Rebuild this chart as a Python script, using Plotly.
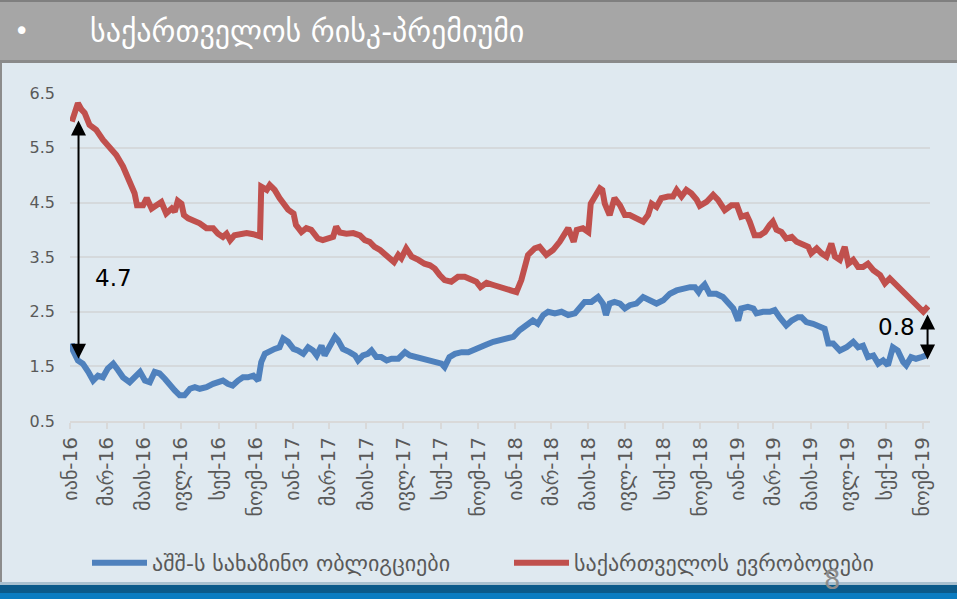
import plotly.graph_objects as go

# ---------------- data ----------------
title_text = "საქართველოს რისკ-პრემიუმი"
us_name = "აშშ-ს სახაზინო ობლიგციები"
geo_name = "საქართველოს ევრობოდები"

tick_dates = ["2016-01-01", "2016-03-01", "2016-05-01", "2016-07-01", "2016-09-01", "2016-11-01",
              "2017-01-01", "2017-03-01", "2017-05-01", "2017-07-01", "2017-09-01", "2017-11-01",
              "2018-01-01", "2018-03-01", "2018-05-01", "2018-07-01", "2018-09-01", "2018-11-01",
              "2019-01-01", "2019-03-01", "2019-05-01", "2019-07-01", "2019-09-01", "2019-11-01"]
tick_labels = ["იან-16", "მარ-16", "მაის-16", "ივლ-16", "სექ-16", "ნოემ-16",
               "იან-17", "მარ-17", "მაის-17", "ივლ-17", "სექ-17", "ნოემ-17",
               "იან-18", "მარ-18", "მაის-18", "ივლ-18", "სექ-18", "ნოემ-18",
               "იან-19", "მარ-19", "მაის-19", "ივლ-19", "სექ-19", "ნოემ-19"]
y_ticks = [0.5, 1.5, 2.5, 3.5, 4.5, 5.5, 6.5]

geo_dates = [
    "2016-01-04", "2016-01-06", "2016-01-14", "2016-01-20", "2016-01-25", "2016-02-02", "2016-02-08",
    "2016-02-13", "2016-02-24", "2016-03-06", "2016-03-17", "2016-03-28", "2016-04-08", "2016-04-16",
    "2016-04-20", "2016-04-30", "2016-05-06", "2016-05-14", "2016-05-22", "2016-05-30", "2016-06-07",
    "2016-06-16", "2016-06-21", "2016-06-26", "2016-07-02", "2016-07-06", "2016-07-13", "2016-07-21",
    "2016-08-01", "2016-08-12", "2016-08-23", "2016-08-31", "2016-09-08", "2016-09-14", "2016-09-20",
    "2016-09-27", "2016-10-08", "2016-10-17", "2016-10-28", "2016-11-08", "2016-11-10", "2016-11-19",
    "2016-11-24", "2016-12-02", "2016-12-10", "2016-12-19", "2016-12-24",
    "2017-01-02", "2017-01-06", "2017-01-15", "2017-01-23", "2017-01-31", "2017-02-11", "2017-02-19",
    "2017-03-02", "2017-03-08", "2017-03-13", "2017-03-19", "2017-03-30", "2017-04-10", "2017-04-21",
    "2017-04-29", "2017-05-07", "2017-05-15", "2017-05-24", "2017-06-04", "2017-06-16", "2017-06-23",
    "2017-06-28", "2017-07-06", "2017-07-15", "2017-07-26", "2017-08-05", "2017-08-14", "2017-08-22",
    "2017-08-30", "2017-09-07", "2017-09-18", "2017-09-29", "2017-10-10", "2017-10-21", "2017-10-29",
    "2017-11-05", "2017-11-15", "2017-11-26", "2017-12-07", "2017-12-18", "2017-12-29",
    "2018-01-03", "2018-01-11", "2018-01-17", "2018-01-22", "2018-02-02", "2018-02-10", "2018-02-21",
    "2018-03-04", "2018-03-15", "2018-03-23", "2018-03-29", "2018-04-07", "2018-04-12", "2018-04-22",
    "2018-05-01", "2018-05-05", "2018-05-12", "2018-05-20", "2018-05-24", "2018-05-28", "2018-06-05",
    "2018-06-13", "2018-06-22", "2018-06-30", "2018-07-08", "2018-07-19", "2018-07-30", "2018-08-07",
    "2018-08-13", "2018-08-21", "2018-08-29", "2018-09-09", "2018-09-17", "2018-09-23", "2018-10-01",
    "2018-10-09", "2018-10-17", "2018-10-26", "2018-10-31", "2018-11-11", "2018-11-22", "2018-11-30",
    "2018-12-11", "2018-12-22", "2018-12-31",
    "2019-01-07", "2019-01-16", "2019-01-21", "2019-01-29", "2019-02-07", "2019-02-15", "2019-02-23",
    "2019-02-28", "2019-03-06", "2019-03-14", "2019-03-22", "2019-03-31", "2019-04-08", "2019-04-16",
    "2019-04-27", "2019-05-02", "2019-05-11", "2019-05-19", "2019-05-27", "2019-06-04", "2019-06-10",
    "2019-06-18", "2019-06-26", "2019-07-02", "2019-07-10", "2019-07-18", "2019-07-26", "2019-08-03",
    "2019-08-12", "2019-08-23", "2019-08-31", "2019-09-08", "2019-09-16", "2019-09-24", "2019-10-03",
    "2019-10-11", "2019-10-19", "2019-10-27", "2019-11-02", "2019-11-10"]
geo_values = [
    5.98, 6.07, 6.32, 6.20, 6.14, 5.92, 5.86,
    5.83, 5.65, 5.49, 5.37, 5.16, 4.85, 4.67,
    4.45, 4.45, 4.58, 4.39, 4.45, 4.51, 4.30,
    4.39, 4.33, 4.53, 4.48, 4.27, 4.21, 4.18,
    4.12, 4.03, 4.03, 3.93, 3.87, 3.93, 3.81,
    3.90, 3.93, 3.94, 3.92, 3.88, 4.79, 4.73,
    4.82, 4.73, 4.58, 4.45, 4.37,
    4.30, 4.09, 3.96, 4.03, 4.00, 3.84, 3.81,
    3.84, 3.87, 4.06, 3.95, 3.93, 3.94, 3.90,
    3.81, 3.78, 3.69, 3.63, 3.54, 3.41, 3.54,
    3.48, 3.66, 3.51, 3.45, 3.38, 3.35, 3.29,
    3.17, 3.08, 3.05, 3.14, 3.14, 3.08, 3.05,
    2.95, 3.03, 2.99, 2.95, 2.91, 2.89,
    2.86, 3.08, 3.32, 3.54, 3.66, 3.69, 3.54,
    3.63, 3.78, 3.90, 4.03, 3.78, 4.00, 4.03,
    3.96, 4.48, 4.62, 4.76, 4.73, 4.48, 4.27,
    4.58, 4.45, 4.27, 4.27, 4.21, 4.15, 4.27,
    4.48, 4.42, 4.58, 4.61, 4.61, 4.73, 4.61,
    4.73, 4.67, 4.55, 4.44, 4.51, 4.64, 4.55,
    4.36, 4.45, 4.45,
    4.24, 4.27, 4.15, 3.90, 3.90, 3.96, 4.09,
    4.15, 4.00, 3.96, 3.84, 3.87, 3.78, 3.75,
    3.69, 3.57, 3.66, 3.57, 3.51, 3.75, 3.51,
    3.45, 3.69, 3.38, 3.45, 3.32, 3.32, 3.38,
    3.26, 3.17, 3.02, 3.11, 3.02, 2.93, 2.83,
    2.74, 2.62, 2.56, 2.50, 2.60]

us_dates = [
    "2016-01-04", "2016-01-06", "2016-01-14", "2016-01-22", "2016-01-31", "2016-02-08", "2016-02-16",
    "2016-02-24", "2016-03-03", "2016-03-12", "2016-03-20", "2016-03-28", "2016-04-08", "2016-04-16",
    "2016-04-25", "2016-05-03", "2016-05-11", "2016-05-19", "2016-05-27", "2016-06-05", "2016-06-13",
    "2016-06-21", "2016-06-29", "2016-07-07", "2016-07-16", "2016-07-24", "2016-08-01", "2016-08-12",
    "2016-08-23", "2016-08-31", "2016-09-08", "2016-09-16", "2016-09-24", "2016-10-03", "2016-10-11",
    "2016-10-19", "2016-10-28", "2016-11-05", "2016-11-10", "2016-11-16", "2016-11-24", "2016-12-02",
    "2016-12-10", "2016-12-16", "2016-12-24",
    "2017-01-02", "2017-01-09", "2017-01-18", "2017-01-26", "2017-02-03", "2017-02-09", "2017-02-17",
    "2017-02-22", "2017-03-02", "2017-03-11", "2017-03-16", "2017-03-24", "2017-04-04", "2017-04-13",
    "2017-04-18", "2017-04-26", "2017-05-04", "2017-05-10", "2017-05-18", "2017-05-26", "2017-06-04",
    "2017-06-12", "2017-06-23", "2017-07-04", "2017-07-12", "2017-07-23", "2017-08-03", "2017-08-14",
    "2017-08-25", "2017-09-02", "2017-09-07", "2017-09-15", "2017-09-24", "2017-10-05", "2017-10-16",
    "2017-10-27", "2017-11-07", "2017-11-15", "2017-11-26", "2017-12-07", "2017-12-18", "2017-12-29",
    "2018-01-08", "2018-01-19", "2018-01-30", "2018-02-07", "2018-02-16", "2018-02-24", "2018-03-07",
    "2018-03-18", "2018-03-29", "2018-04-09", "2018-04-17", "2018-04-25", "2018-05-06", "2018-05-17",
    "2018-05-25", "2018-05-30", "2018-06-05", "2018-06-13", "2018-06-22", "2018-06-30", "2018-07-08",
    "2018-07-19", "2018-07-30", "2018-08-10", "2018-08-21", "2018-09-01", "2018-09-12", "2018-09-23",
    "2018-10-04", "2018-10-15", "2018-10-23", "2018-10-29", "2018-11-01", "2018-11-08", "2018-11-16",
    "2018-11-27", "2018-12-08", "2018-12-16", "2018-12-25",
    "2019-01-02", "2019-01-07", "2019-01-18", "2019-01-27", "2019-02-01", "2019-02-12", "2019-02-23",
    "2019-03-03", "2019-03-11", "2019-03-22", "2019-03-31", "2019-04-10", "2019-04-16", "2019-04-24",
    "2019-05-05", "2019-05-16", "2019-05-24", "2019-05-30", "2019-06-07", "2019-06-18", "2019-06-29",
    "2019-07-10", "2019-07-18", "2019-07-26", "2019-08-03", "2019-08-12", "2019-08-20", "2019-08-28",
    "2019-09-05", "2019-09-13", "2019-09-21", "2019-09-30", "2019-10-05", "2019-10-13", "2019-10-21",
    "2019-10-30", "2019-11-07"]
us_values = [
    1.92, 1.79, 1.61, 1.55, 1.40, 1.24, 1.33,
    1.30, 1.46, 1.55, 1.43, 1.30, 1.21, 1.30,
    1.40, 1.24, 1.21, 1.40, 1.37, 1.27, 1.15,
    1.06, 0.97, 0.97, 1.09, 1.12, 1.09, 1.12,
    1.18, 1.21, 1.24, 1.18, 1.15, 1.24, 1.30,
    1.30, 1.33, 1.24, 1.58, 1.73, 1.79, 1.82,
    1.85, 2.01, 1.95,
    1.82, 1.79, 1.73, 1.85, 1.79, 1.70, 1.88,
    1.70, 1.85, 2.04, 1.98, 1.82, 1.76, 1.70,
    1.61, 1.70, 1.73, 1.79, 1.67, 1.67, 1.61,
    1.64, 1.64, 1.76, 1.70, 1.67, 1.64, 1.61,
    1.58, 1.55, 1.49, 1.67, 1.73, 1.76, 1.76,
    1.82, 1.85, 1.90, 1.95, 1.98, 2.01, 2.04,
    2.16, 2.25, 2.34, 2.28, 2.44, 2.50, 2.47,
    2.50, 2.44, 2.47, 2.56, 2.68, 2.68, 2.77,
    2.65, 2.44, 2.65, 2.68, 2.65, 2.56, 2.62,
    2.65, 2.77, 2.71, 2.65, 2.71, 2.83, 2.89,
    2.93, 2.95, 2.95, 2.86, 2.92, 3.00, 2.83,
    2.83, 2.77, 2.68, 2.56,
    2.34, 2.56, 2.59, 2.56, 2.47, 2.50, 2.50,
    2.53, 2.40, 2.25, 2.34, 2.40, 2.40, 2.31,
    2.28, 2.22, 2.19, 1.92, 1.92, 1.79, 1.85,
    1.95, 1.85, 1.88, 1.67, 1.70, 1.55, 1.61,
    1.52, 1.85, 1.79, 1.58, 1.52, 1.67, 1.64,
    1.67, 1.70]

gap_dates = ["2016-01-15", "2019-11-09"]
gap_top = [6.00, 2.45]
gap_bottom = [1.61, 1.60]
gap_label_dates = ["2016-02-07", "2019-10-23"]
gap_label_values = [3.11, 2.23]
gap_labels = ["4.7", "0.8"]
page_number = "8"

# ---------------- layout helpers ----------------
W, H = 957, 599
PL, PR, PT, PB = 70, 930, 93, 421


def fx(p):
    return (p - PL) / (PR - PL)


def fy(p):
    return (PB - p) / (PB - PT)


BG = "#dfe9f0"
GRID = "#d5d9dc"
TXT = "#595959"
GEO_FONT = "DejaVu Sans"

fig = go.Figure()
fig.add_trace(go.Scatter(x=us_dates, y=us_values, mode="lines", name=us_name,
                         line=dict(color="#4f81bd", width=6)))
fig.add_trace(go.Scatter(x=geo_dates, y=geo_values, mode="lines", name=geo_name,
                         line=dict(color="#c0504d", width=6)))


def band(y_top, y_bot, color, x0=0, x1=W):
    return dict(type="rect", xref="paper", yref="paper", x0=fx(x0), x1=fx(x1),
                y0=fy(y_bot), y1=fy(y_top), fillcolor=color, line_width=0, layer="above")


shapes = [
    band(0, 63, "#a6a6a6"),
    band(0, 2, "#7f7f7f"),
    band(60, 63, "#8a8a8a"),
    band(63, 583, "#8c8c8c", 0, 2),
    band(582, 585, "#a9c0cf"),
    band(585, 593, "#0b5a8a"),
    band(593, H, "#0a7cc1"),
]

annotations = [
    dict(xref="paper", yref="paper", x=fx(12), y=fy(31), text="•", showarrow=False,
         xanchor="left", yanchor="middle", font=dict(family="DejaVu Sans", size=26, color="white")),
    dict(xref="paper", yref="paper", x=fx(88), y=fy(31), text=title_text, showarrow=False,
         xanchor="left", yanchor="middle", font=dict(family=GEO_FONT, size=30, color="white")),
    dict(xref="paper", yref="paper", x=fx(832), y=fy(580), text=page_number, showarrow=False,
         xanchor="center", yanchor="middle", font=dict(family="DejaVu Sans", size=26, color="#8c8c8c")),
]
for d, top, bot in zip(gap_dates, gap_top, gap_bottom):
    annotations.append(dict(x=d, y=top, ax=d, ay=bot, xref="x", yref="y", axref="x", ayref="y",
                            text="", showarrow=True, arrowside="end+start",
                            arrowhead=2, startarrowhead=2, arrowsize=1.5, startarrowsize=1.5,
                            arrowwidth=2, arrowcolor="black", standoff=0, startstandoff=0))
for d, v, t, xa in zip(gap_label_dates, gap_label_values, gap_labels, ["left", "right"]):
    annotations.append(dict(x=d, y=v, xref="x", yref="y", text=t, showarrow=False,
                            xanchor=xa, yanchor="middle",
                            font=dict(family="DejaVu Sans", size=23, color="black")))

fig.update_layout(
    width=W, height=H,
    margin=dict(l=PL, r=W - PR, t=PT, b=H - PB, pad=0, autoexpand=False),
    paper_bgcolor=BG, plot_bgcolor=BG,
    showlegend=True,
    legend=dict(orientation="h", x=fx(87), y=fy(563), xanchor="left", yanchor="middle",
                font=dict(family=GEO_FONT, size=22, color=TXT), bgcolor="rgba(0,0,0,0)",
                itemwidth=55, entrywidth=352, traceorder="normal"),
    shapes=shapes,
    annotations=annotations,
    xaxis=dict(type="date", range=["2016-01-01", "2019-11-13"], tickmode="array",
               tickvals=tick_dates, ticktext=tick_labels, tickangle=-90,
               ticks="outside", ticklen=6, tickwidth=2, tickcolor="#d9d9d9",
               showline=True, linecolor="#d9d9d9", linewidth=2, showgrid=False, zeroline=False,
               tickfont=dict(family=GEO_FONT, size=20, color=TXT), ticklabelstandoff=0),
    yaxis=dict(range=[0.5, 6.505], tickmode="array", tickvals=y_ticks,
               ticktext=[f"{v:.1f}" for v in y_ticks], showgrid=True, gridcolor=GRID, gridwidth=2,
               zeroline=False, showline=False, ticks="",
               tickfont=dict(family="DejaVu Sans", size=16, color=TXT), ticklabelstandoff=14),
)

fig.write_html("out.html", config={"displayModeBar": False},
               post_script="document.body.style.margin='0px';")
